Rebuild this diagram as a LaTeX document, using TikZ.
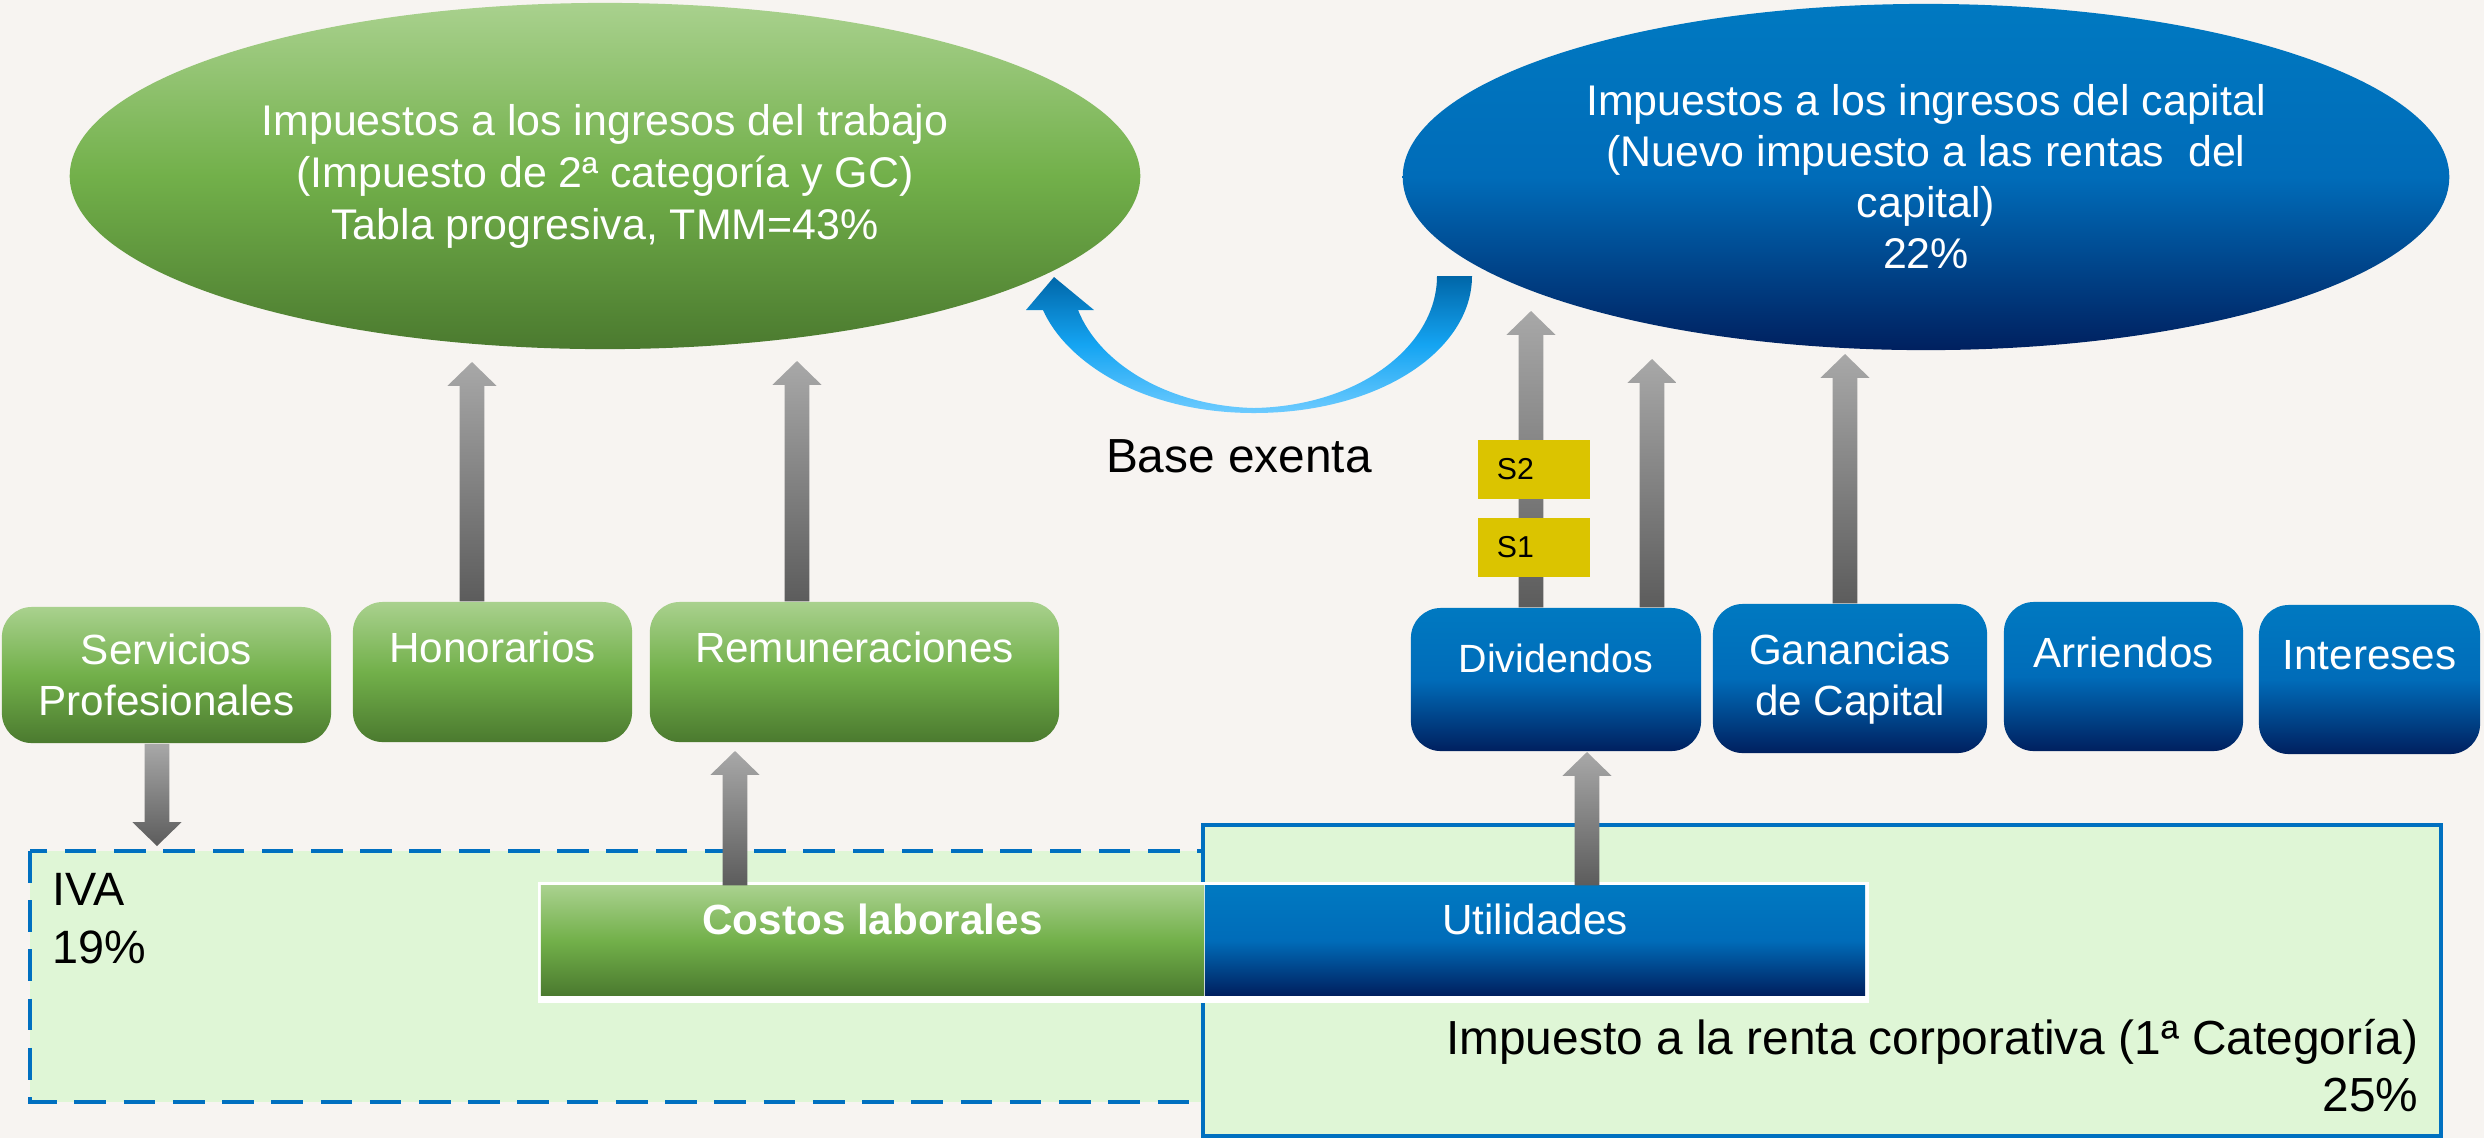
\documentclass[tikz,border=0pt]{standalone}
\usepackage{fontspec}
\setmainfont{Liberation Sans}
\usetikzlibrary{shapes.geometric, calc, positioning}

\definecolor{fondo}{HTML}{F7F4F1}
\definecolor{verdeA}{HTML}{A9D18E}
\definecolor{verdeM}{HTML}{72B04A}
\definecolor{verdeB}{HTML}{4B7A2F}
\definecolor{azulA}{HTML}{0079C1}
\definecolor{azulM}{HTML}{006CB9}
\definecolor{azulB}{HTML}{00205F}
\definecolor{grisA}{HTML}{A8A8A8}
\definecolor{grisB}{HTML}{5C5C5C}
\definecolor{marco}{HTML}{0070C0}
\definecolor{relleno}{HTML}{DFF6D6}
\definecolor{amarillo}{HTML}{DBC400}
\definecolor{curvaA}{HTML}{0066A8}
\definecolor{curvaM}{HTML}{14A4F2}
\definecolor{curvaB}{HTML}{6DCBFF}

% block arrow: tail, tip, signed head length
\newcommand{\flechabloque}[3]{%
  \path[flecha] let \p1=(#1), \p2=(#2) in
    ({\x1-3.5pt},\y1) -- ({\x1-3.5pt},{\y2+(#3)}) -- ({\x1-7pt},{\y2+(#3)})
    -- (\x1,\y2) -- ({\x1+7pt},{\y2+(#3)}) -- ({\x1+3.5pt},{\y2+(#3)})
    -- ({\x1+3.5pt},\y1) -- cycle;}

\begin{document}
\begin{tikzpicture}[x=0.01cm, y=-0.01cm,
    verde/.style={top color=verdeA, bottom color=verdeB, middle color=verdeM},
    azul/.style={top color=azulA, bottom color=azulB, middle color=azulM},
    caja/.style={rectangle, rounded corners=8.5pt, inner sep=0pt},
    blanco/.style={text=white, align=center, inner sep=0pt, font=\fontsize{12}{14.5}\selectfont},
    negro/.style={text=black, inner sep=0pt, font=\fontsize{13.6}{16.2}\selectfont},
    flecha/.style={top color=grisA, bottom color=grisB},
    sbox/.style={rectangle, fill=amarillo, minimum width=1.12cm, minimum height=0.59cm,
      text width=0.74cm, align=left, inner sep=0pt, font=\fontsize{8.6}{10}\selectfont}]

    \fill[fondo] (0,0) rectangle (2484,1138);
    \useasboundingbox (0,0) rectangle (2484,1138);

    % impuestos corporativos
    \draw[draw=marco, line width=1.1pt, dash pattern=on 9pt off 5pt, fill=relleno] (30,851) rectangle (1240,1102);
    \draw[draw=marco, line width=1.1pt, fill=relleno] (1203,825) rectangle (2441,1136);
    \node[negro, align=left, anchor=north west, font=\fontsize{13.3}{16.5}\selectfont] (iva) at (52,873) {IVA\\19\%};
    \node[negro, align=right, anchor=north east] (renta) at (2419,1019) {Impuesto a la renta corporativa (1ª Categoría)\\25\%};

    \fill[white] (538,882) rectangle (1869,1003);
    \node[rectangle, verde, minimum width=6.63cm, minimum height=1.09cm, inner sep=0pt] (costos) at (872.5,940.5) {};
    \node[rectangle, azul, minimum width=6.60cm, minimum height=1.09cm, inner sep=0pt] (util) at (1535,940.5) {};
    \node[blanco, font=\fontsize{12}{14.5}\selectfont\bfseries] (costosT) at ($(costos.north)+(0,34)$) {Costos laborales};
    \node[blanco] (utilT) at ($(util.north)+(0,34)$) {Utilidades};

    % rentas
    \node[caja, verde, minimum width=3.29cm, minimum height=1.36cm] (serv) at (166.5,675) {};
    \node[caja, verde, minimum width=2.79cm, minimum height=1.40cm] (hon) at (492.5,672) {};
    \node[caja, verde, minimum width=4.09cm, minimum height=1.40cm] (rem) at (854.5,672) {};
    \node[caja, azul, minimum width=2.90cm, minimum height=1.43cm] (div) at (1556,679.5) {};
    \node[caja, azul, minimum width=2.74cm, minimum height=1.49cm] (gan) at (1850,678.5) {};
    \node[caja, azul, minimum width=2.39cm, minimum height=1.49cm] (arr) at (2123.5,676.5) {};
    \node[caja, azul, minimum width=2.21cm, minimum height=1.49cm] (inte) at (2369.5,679.5) {};

    \node[blanco] (servT) at (serv.center) {Servicios\\Profesionales};
    \node[blanco] (honT) at ($(hon.north)+(0,46)$) {Honorarios};
    \node[blanco] (remT) at ($(rem.north)+(0,46)$) {Remuneraciones};
    \node[blanco, font=\fontsize{11.2}{14}\selectfont] (divT) at ($(div.north)+(0,51)$) {Dividendos};
    \node[blanco] (ganT) at ($(gan.north)+(0,76)$) {Ganancias\\de Capital};
    \node[blanco] (arrT) at ($(arr.north)+(0,51)$) {Arriendos};
    \node[blanco] (inteT) at ($(inte.north)+(0,51)$) {Intereses};

    % impuestos personales
    \node[ellipse, verde, minimum width=10.70cm, minimum height=3.46cm, blanco,
      font=\fontsize{12.2}{14.8}\selectfont] (trabajo) at (605,176)
      {Impuestos a los ingresos del trabajo\\(Impuesto de 2ª categoría y GC)\\Tabla progresiva, TMM=43\%};
    \node[ellipse, azul, minimum width=10.46cm, minimum height=3.46cm, blanco,
      font=\fontsize{12.2}{14.5}\selectfont] (capital) at (1926,177)
      {Impuestos a los ingresos del capital\\(Nuevo impuesto a las rentas\ \ del\\capital)\\22\%};

    % flechas
    \coordinate (pHon) at (472,362);
    \coordinate (pRem) at (797,361);
    \coordinate (pServ) at (157,846);
    \coordinate (pRemB) at (735,751);
    \coordinate (pDivB) at (1587,752);
    \coordinate (pDiv1) at (1531,311);
    \coordinate (pDiv2) at (1652,359);
    \coordinate (pGan) at (1845,354);

    \flechabloque{hon.north -| pHon}{pHon}{-6.8pt}
    \flechabloque{rem.north -| pRem}{pRem}{-6.8pt}
    \flechabloque{serv.south -| pServ}{pServ}{6.8pt}
    \flechabloque{costos.north -| pRemB}{pRemB}{-6.8pt}
    \flechabloque{util.north -| pDivB}{pDivB}{-6.8pt}
    \flechabloque{div.north -| pDiv1}{pDiv1}{-6.8pt}
    \flechabloque{div.north -| pDiv2}{pDiv2}{-6.8pt}
    \flechabloque{gan.north -| pGan}{pGan}{-6.8pt}

    \node[sbox] (s2) at (1534,469.5) {S2};
    \node[sbox] (s1) at (1534,547) {S1};

    % base exenta
    \path[top color=curvaA, bottom color=curvaB, middle color=curvaM]
      (1054,277) -- (1094,310) -- (1078,310)
      .. controls (1100,365) and (1170,406) .. (1254,408)
      .. controls (1360,406) and (1437,345) .. (1437,276)
      -- (1472,276)
      .. controls (1472,350) and (1380,413) .. (1254,413)
      .. controls (1140,413) and (1065,360) .. (1043,310)
      -- (1026,310) -- cycle;
    \node[negro] (base) at (1239,456) {Base exenta};
\end{tikzpicture}
\end{document}
